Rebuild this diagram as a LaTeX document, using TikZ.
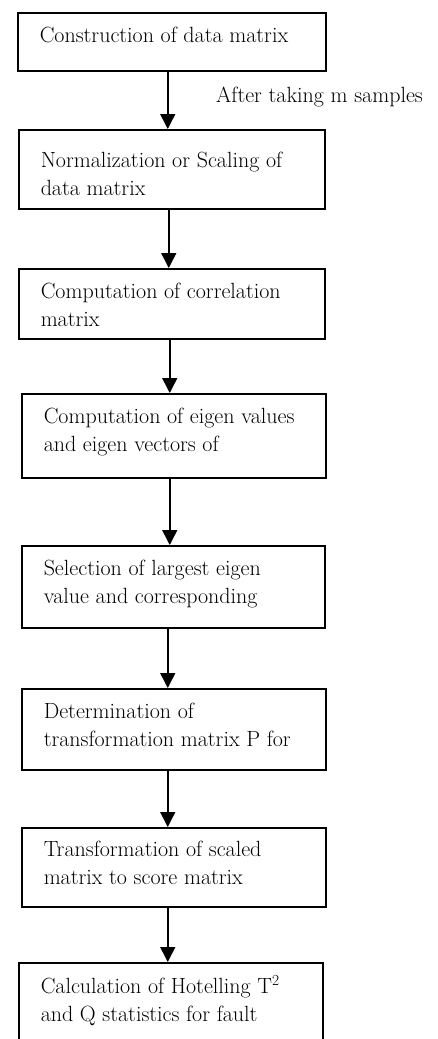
\documentclass[tikz,border=0pt]{standalone}
\usepackage{tikz}
\usetikzlibrary{arrows.meta}
% text of one stage: width, height, top gap, lines
\newcommand{\stagetext}[4]{\parbox[c][#2pt][t]{#1pt}{\raggedright\leftskip=22pt\vspace*{#3pt}#4\par}}

\begin{document}
\begin{tikzpicture}[x=1pt,y=-1pt,
  stage/.style={draw,line width=1.5pt,inner sep=0pt,anchor=north west,font=\fontsize{22}{28}\selectfont},
  flow/.style={line width=1.5pt,-{Triangle[length=15pt,width=15pt]}}]
\useasboundingbox (0,0) rectangle (438,1039);
\clip (0,0) rectangle (438,1039);
\node[stage] (b1) at (17,12) {\stagetext{308}{58}{14}{Construction of data matrix}};
\node[stage] (b2) at (18,129) {\stagetext{306}{79}{22}{Normalization or Scaling of\\ data matrix}};
\node[stage] (b3) at (18,268) {\stagetext{306}{70}{14}{Computation of correlation\\ matrix}};
\node[stage] (b4) at (21,393) {\stagetext{304}{84}{14}{Computation of eigen values\\ and eigen vectors of}};
\node[stage] (b5) at (21,545) {\stagetext{303}{82}{14}{Selection of largest eigen\\ value and corresponding}};
\node[stage] (b6) at (21,688) {\stagetext{304}{81}{14}{Determination of\\ transformation matrix P for}};
\node[stage] (b7) at (21,827) {\stagetext{304}{79}{13}{Transformation of scaled\\ matrix to score matrix}};
\node[stage] (b8) at (18,962) {\stagetext{304}{100}{13}{Calculation of Hotelling T\textsuperscript{2}\\ and Q statistics for fault}};
\node[anchor=base west,inner sep=0pt,font=\fontsize{22}{28}\selectfont] (lbl) at (216,102) {After taking m samples};
\draw[flow] ([xshift=-4pt]b1.south) -- ([xshift=-4pt]b1.south |- b2.north);
\draw[flow] ([xshift=-3pt]b2.south) -- ([xshift=-3pt]b2.south |- b3.north);
\draw[flow] ([xshift=-2pt]b3.south) -- ([xshift=-2pt]b3.south |- b4.north);
\draw[flow] ([xshift=-4pt]b4.south) -- ([xshift=-4pt]b4.south |- b5.north);
\draw[flow] ([xshift=-5.5pt]b5.south) -- ([xshift=-5.5pt]b5.south |- b6.north);
\draw[flow] ([xshift=-6pt]b6.south) -- ([xshift=-6pt]b6.south |- b7.north);
\draw[flow] ([xshift=-6pt]b7.south) -- ([xshift=-6pt]b7.south |- b8.north);
\end{tikzpicture}
\end{document}
